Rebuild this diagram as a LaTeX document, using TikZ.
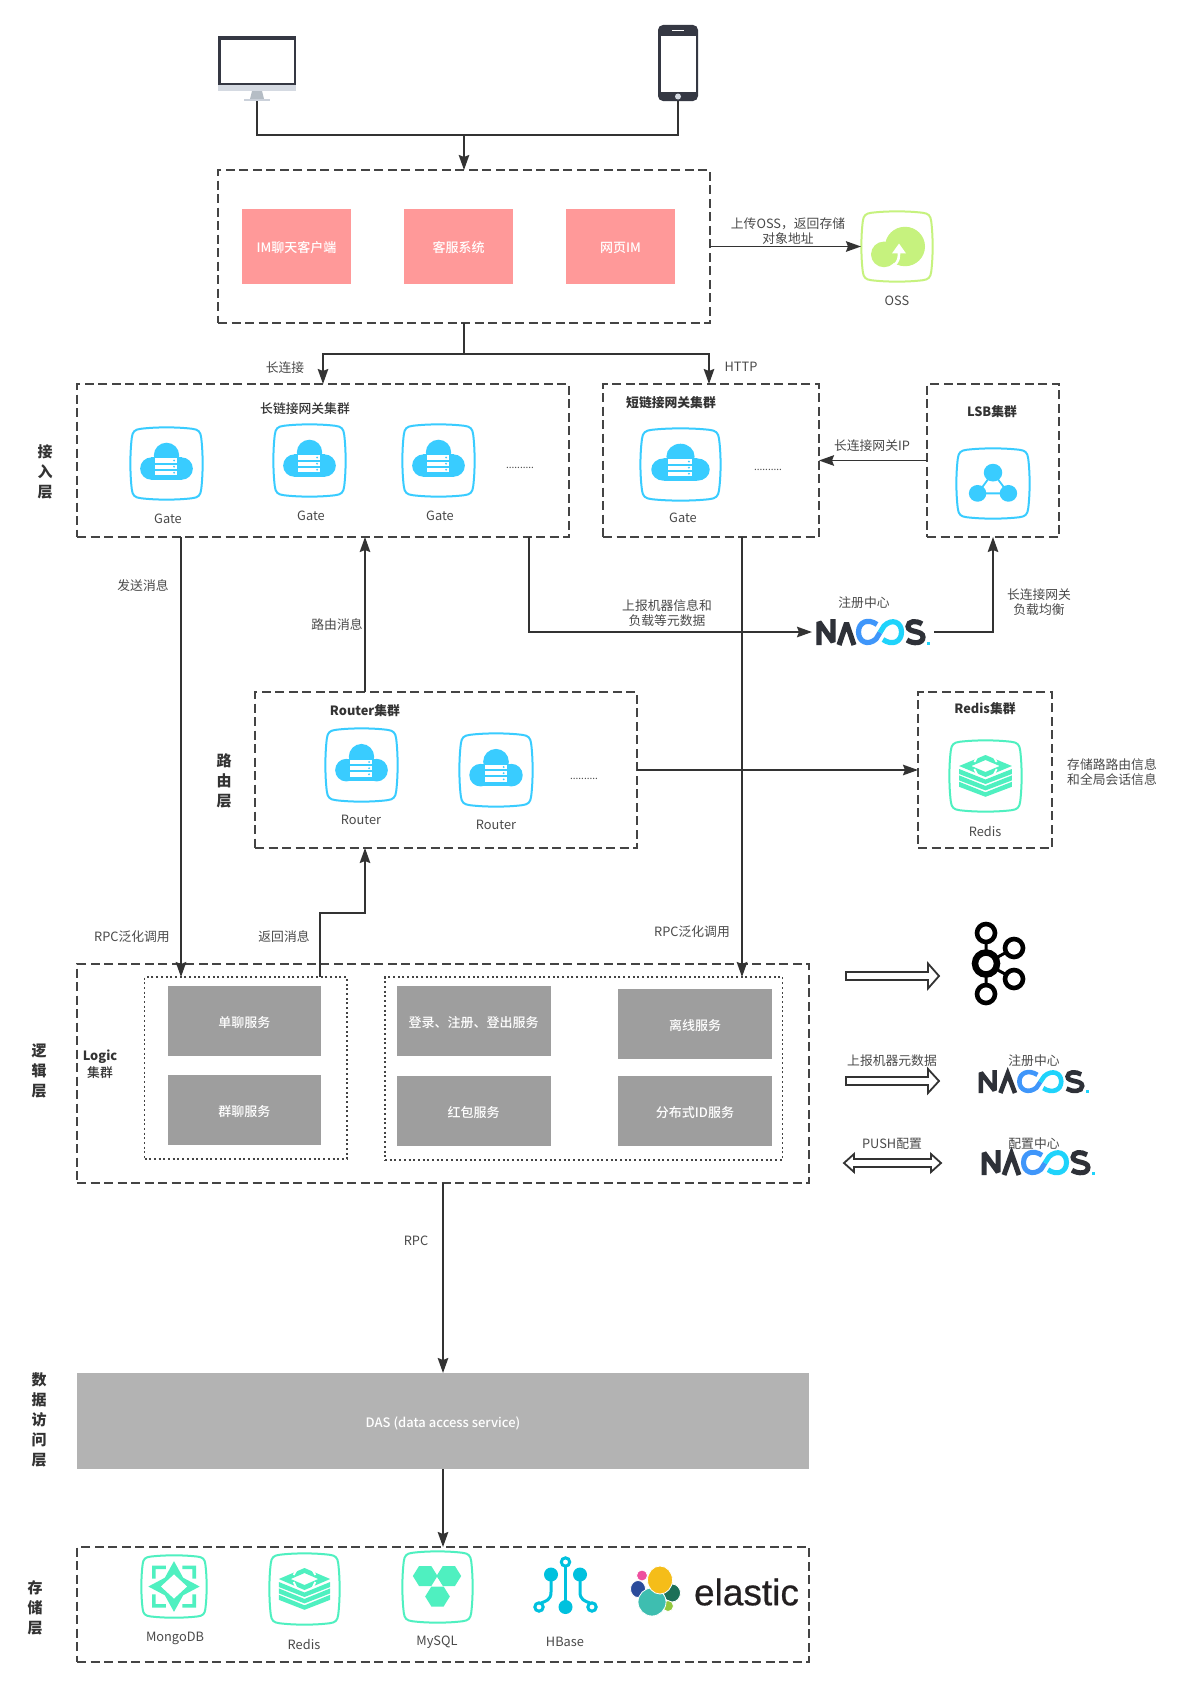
\documentclass[tikz,border=0pt]{standalone}
\usepackage{fontspec}
\setmainfont{Noto Sans CJK SC}
\newfontfamily\medfont{Noto Sans CJK SC Medium}
\newfontfamily\logofont[FakeBold=0.5]{Liberation Sans}
\usetikzlibrary{arrows.meta,calc}
\definecolor{ink}{HTML}{333333}
\definecolor{dashink}{HTML}{444444}
\definecolor{labink}{HTML}{4A4A4A}
\definecolor{pinkbox}{HTML}{FF9999}
\definecolor{greybox}{HTML}{9E9E9E}
\definecolor{dasbox}{HTML}{B3B3B3}
\definecolor{gatecol}{HTML}{39CCFF}
\definecolor{tealcol}{HTML}{4FF0C0}
\definecolor{limecol}{HTML}{C6F27E}
\definecolor{hbasecol}{HTML}{00C1DE}
\definecolor{devdark}{HTML}{353843}
\definecolor{devchin}{HTML}{D5DAE2}
\definecolor{devstand}{HTML}{B5BDC5}
\definecolor{devbase}{HTML}{CBD1DA}
\definecolor{nacdark}{HTML}{2E3138}
\definecolor{nacblue}{HTML}{3F96FA}
\definecolor{naccyan}{HTML}{1FD3FB}
\definecolor{elpink}{HTML}{EE4F9F}
\definecolor{elnavy}{HTML}{2A4B9B}
\definecolor{elgreen}{HTML}{1C7058}
\definecolor{ellime}{HTML}{93C83E}
\definecolor{elteal}{HTML}{3EBEB0}
\definecolor{elyellow}{HTML}{F5BD19}
\definecolor{elink}{HTML}{231F20}
\tikzset{
  every node/.style={inner sep=0pt,outer sep=0pt},
  dashbox/.style={draw=dashink,line width=1.8pt,dash pattern=on 9pt off 4.5pt},
  dotbox/.style={draw=dashink,line width=1.8pt,dash pattern=on 2pt off 2.7pt},
  fillfont/.style={text=white,font=\medfont\fontsize{13}{16}\selectfont,text height=12.5pt,text depth=0pt},
  pinkfill/.style={fill=pinkbox,fillfont},
  greyfill/.style={fill=greybox,fillfont},
  dasfill/.style={fill=dasbox,fillfont},
  placebox/.style={},
  lab/.style={yshift=-1pt,text=labink,font=\fontsize{12.8}{15.5}\selectfont,align=center},
  titlelab/.style={yshift=-1pt,text=ink,font=\medfont\fontsize{12.8}{15.5}\selectfont,align=center},
  boldlab/.style={yshift=-1pt,text=ink,font=\fontsize{12.8}{15.5}\selectfont\bfseries,align=center},
  sidelab/.style={text=ink,font=\fontsize{15}{20}\selectfont\bfseries,align=center},
  wire/.style={draw=ink,line width=1.8pt},
  arr/.style={draw=ink,line width=1.8pt,-{Stealth[length=15pt,width=10.5pt,inset=2pt]}},
  hollow/.style={draw=ink,line width=1.8pt,fill=white,line join=miter},
}
\newcommand{\mkbox}[7][]{\node[#1,minimum width={(#5-#3)*1pt},minimum height={(#6-#4)*1pt}] (#2) at ({(#3+#5)/2},{(#4+#6)/2}) {#7};}
\newcommand{\mklab}[5][lab]{\node[#1] (#2) at (#3,#4) {#5};}
\newcommand{\mkicon}[7]{%
  \node[minimum width={(#4-#2)*1pt},minimum height={(#5-#3)*1pt}] (#1) at ({(#2+#4)/2},{(#3+#5)/2}) {};
  \begin{scope}[shift={(#1.center)},xscale={(#4-#2)/72},yscale={(#5-#3)/72}]
    \begin{scope}[scale=0.95]
    \draw[color=#6,line width=2pt,line join=round]
      (-27,-36) .. controls (-11,-38) and (11,-38) .. (27,-36)
      .. controls (33,-35.3) and (35.3,-33) .. (36,-27)
      .. controls (38,-11) and (38,11) .. (36,27)
      .. controls (35.3,33) and (33,35.3) .. (27,36)
      .. controls (11,38) and (-11,38) .. (-27,36)
      .. controls (-33,35.3) and (-35.3,33) .. (-36,27)
      .. controls (-38,11) and (-38,-11) .. (-36,-27)
      .. controls (-35.3,-33) and (-33,-35.3) .. (-27,-36) -- cycle;
    \end{scope}
    #7
  \end{scope}}
\newcommand{\cloudglyph}{%
  \fill[gatecol] (0,-8) circle (12.5);
  \fill[gatecol] (-15,5) circle (11);
  \fill[gatecol] (15,5) circle (11);
  \fill[gatecol] (-15,-6) rectangle (15,16);
  \foreach \yy in {-5,1,7}{
    \fill[white] (-11,\yy) rectangle (10.5,\yy+4.3);
    \fill[gatecol] (7.5,\yy+2.1) circle (1);
  }}
\newcommand{\stackglyph}{%
  \fill[tealcol,even odd rule] (-26,-10) -- (0,-21) -- (26,-10) -- (0,1) -- cycle
     (-14,-10) -- (0,-16) -- (14,-10) -- (0,-4) -- cycle;
  \draw[white,line width=1.8pt] (-7,-21) -- (-11,-14) (7,-21) -- (11,-14) (-11,-7) -- (-7,1) (11,-7) -- (7,1);
  \foreach \dy in {-2,4.4,10.8}{
    \fill[tealcol] (-26,{-5+\dy}) -- (0,{5.5+\dy}) -- (26,{-5+\dy}) -- (26,{\dy}) -- (0,{10+\dy}) -- (-26,{\dy}) -- cycle;
  }}
\newcommand{\nacoslogo}[5]{%
  \node[minimum width={(#4-#2)*1pt},minimum height={(#5-#3)*1pt}] (#1) at ({(#2+#4)/2},{(#3+#5)/2}) {};
  \begin{scope}[shift={(#2,#3)},xscale={(#4-#2)/114},yscale={(#5-#3)/26}]
    \pgfmathsetmacro{\nlw}{5.2*(#5-#3)/26}
    \draw[nacdark,line width=\nlw pt,line join=miter,miter limit=3] (3,26) -- (3,3) -- (17,23) -- (17,0);
    \draw[nacdark,line width=\nlw pt,line join=miter,miter limit=3] (23,26) -- (30.5,4) -- (38,26);
    \draw[nacblue,line width=\nlw pt] (61,5.5) .. controls (52,-1) and (42.5,3) .. (42.5,13) .. controls (42.5,23) and (52,27) .. (60,20) -- (64,13.5);
    \draw[naccyan,line width=\nlw pt] (64,13.5) -- (68,7) .. controls (76,-1) and (85.5,3) .. (85.5,13) .. controls (85.5,23) and (76,27) .. (67,20.5);
    \draw[nacdark,line width=\nlw pt] (106,5) .. controls (100,1) and (92,2) .. (92,7.5) .. controls (92,14) and (107,11) .. (107,18) .. controls (107,25) and (97,25) .. (91,21);
    \fill[naccyan] (110.5,22.5) rectangle (114,26);
  \end{scope}}
\begin{document}
\begin{tikzpicture}[x=1pt,y=-1pt]
\useasboundingbox (0,0) rectangle (1185,1686);
\fill[white] (0,0) rectangle (1185,1686);

% devices
\mkbox[placebox]{monitor}{218}{36}{296}{101}{}
\fill[devdark] (218,36) rectangle (296,85);
\fill[white] (220.5,40.5) rectangle (293.5,83);
\fill[devchin] (218,85) rectangle (296,91);
\fill[devstand] (252,91) -- (262,91) -- (264,99) -- (250,99) -- cycle;
\fill[devbase] (244,99) rectangle (270,101);

\mkbox[placebox]{phone}{658}{25}{698}{101}{}
\fill[devdark,rounded corners=5pt] (658,25) rectangle (698,101);
\fill[white] (660.5,36) rectangle (695.5,92);
\fill[white] (672,30.2) rectangle (684,31.4);
\fill[devchin] (678,96.5) circle (3);

% client box
\mkbox[dashbox]{client}{218}{170}{710}{323}{}
\mkbox[pinkfill]{imapp}{242}{209}{351}{284}{IM聊天客户端}
\mkbox[pinkfill]{kefu}{404}{209}{513}{284}{客服系统}
\mkbox[pinkfill]{webim}{566}{209}{675}{284}{网页IM}

\coordinate (jt) at (464,135);
\draw[wire] (monitor.south) |- (jt);
\draw[wire] (phone.south) |- (jt);
\draw[arr] (jt) -- (client.north);

% OSS
\mkicon{oss}{861}{211}{933}{282}{limecol}{%
  \fill[limecol] (8,0) circle (20);
  \fill[limecol] (-13,8) circle (13);
  \draw[white,line width=2.6pt] (-3,19) .. controls (2,15) and (2,11) .. (2,5);
  \fill[white] (2,-3) -- (9,7) -- (-5,7) -- cycle;
}
\mklab{osslab}{897}{300}{OSS}
\draw[arr] (client.east) -- (oss.west);
\mklab{uploadlab}{788}{230}{上传OSS，返回存储\\对象地址}

% access layer
\mkbox[dashbox]{long}{77}{384}{569}{537}{}
\mkbox[dashbox]{short}{603}{384}{819}{537}{}
\mkbox[dashbox]{lsb}{927}{384}{1059}{537}{}
\coordinate (js) at (464,354);
\draw[wire] (client.south) -- (js);
\draw[arr] (js) -| (long.north);
\draw[arr] (js) -| ([xshift=-2pt]short.north);
\mklab{longconn}{285}{367}{长连接}
\mklab{httplab}{741}{366}{HTTP}
\mklab[titlelab]{longtitle}{305}{408}{长链接网关集群}
\mkicon{gate1}{130}{427}{203}{500}{gatecol}{\cloudglyph}
\mkicon{gate2}{273}{424}{346}{497}{gatecol}{\cloudglyph}
\mkicon{gate3}{402}{424}{475}{497}{gatecol}{\cloudglyph}
\mklab{gatelab1}{168}{518}{Gate}
\mklab{gatelab2}{311}{515}{Gate}
\mklab{gatelab3}{440}{515}{Gate}
\node[lab,font=\fontsize{10}{12}\selectfont] (dots1) at (520,467) {..........};
\mklab[boldlab]{shorttitle}{671}{402}{短链接网关集群}
\mkicon{gate4}{640}{428}{721}{501}{gatecol}{\cloudglyph}
\mklab{gatelab4}{683}{517}{Gate}
\node[lab,font=\fontsize{10}{12}\selectfont] (dots2) at (768,469) {..........};
\mklab[boldlab]{lsbtitle}{992}{411}{LSB集群}
\mkicon{lsbicon}{956}{448}{1030}{519}{gatecol}{%
  \draw[gatecol,line width=1.8pt] (0,-11) -- (-15,10) -- (15,10) -- cycle;
  \fill[gatecol] (0,-11) circle (9);
  \fill[gatecol] (-15,10) circle (8.5);
  \fill[gatecol] (15,10) circle (8.5);
}
\draw[arr] (lsb.west) -- (short.east);
\mklab{lsbip}{872}{445}{长连接网关IP}
\mklab[sidelab]{siderow1}{45}{472}{接\\入\\层}

% nacos middle
\nacoslogo{nacos1}{816}{619}{930}{645}
\mklab{regcenter1}{864}{602}{注册中心}
\draw[arr] ([xshift=206pt]long.south) |- ([xshift=-4pt]nacos1.west);
\draw[arr] ([xshift=4pt]nacos1.east) -| (lsb.south);
\mklab{reportlab}{667}{612}{上报机器信息和\\负载等元数据}
\mklab{balance}{1039}{601}{长连接网关\\负载均衡}
\mklab{sendlab}{143}{585}{发送消息}
\mklab{routelab}{337}{624}{路由消息}

% router layer
\mkbox[dashbox]{router}{255}{692}{637}{848}{}
\mklab[boldlab]{routertitle}{365}{710}{Router集群}
\mkicon{router1}{325}{728}{398}{802}{gatecol}{\cloudglyph}
\mkicon{router2}{459}{733}{533}{807}{gatecol}{\cloudglyph}
\mklab{routerlab1}{361}{819}{Router}
\mklab{routerlab2}{496}{824}{Router}
\node[lab,font=\fontsize{10}{12}\selectfont] (dots3) at (584,778) {..........};
\mklab[sidelab]{siderow2}{224}{781}{路\\由\\层}
\mkbox[dashbox]{redisbox}{918}{692}{1052}{848}{}
\mklab[boldlab]{redistitle}{985}{708}{Redis集群}
\mkicon{redisicon}{949}{740}{1022}{812}{tealcol}{\stackglyph}
\mklab{redislab}{985}{830}{Redis}
\draw[arr] (router.east) -- (redisbox.west);
\node[lab,align=left] (redisnote) at (1112,771) {存储路路由信息\\和全局会话信息};
\draw[arr] ([xshift=-81pt]router.north) -- ([xshift=42pt]long.south);

% logic layer
\mkbox[dashbox]{logic}{77}{964}{809}{1183}{}
\mkbox[dotbox]{dot1}{144.5}{977}{347}{1159}{}
\mkbox[dotbox]{dot2}{385}{977}{782.5}{1160}{}
\mkbox[greyfill]{single}{167.6}{986}{321}{1056}{单聊服务}
\mkbox[greyfill]{group}{167.6}{1075}{321}{1145}{群聊服务}
\mkbox[greyfill]{login}{396.5}{986}{550.7}{1056}{登录、注册、登出服务}
\mkbox[greyfill]{redpack}{396.5}{1076}{550.7}{1146}{红包服务}
\mkbox[greyfill]{offline}{618}{989}{772}{1059}{离线服务}
\mkbox[greyfill]{idgen}{618}{1076}{772}{1146}{分布式ID服务}
\node[boldlab] (logictitle) at (100,1056) {Logic};
\mklab[titlelab]{logicsub}{100}{1072}{集群}
\mklab[sidelab]{siderow3}{39}{1071}{逻\\辑\\层}

\draw[arr] ([xshift=-142pt]long.south) coordinate (a1) -- (a1 |- dot1.north);
\draw[arr] ([xshift=31pt]short.south) coordinate (a2) -- (a2 |- dot2.north);
\draw[arr] ([xshift=74.25pt]dot1.north) -- ++(0,-64) -| ([xshift=-81pt]router.south);
\mklab{rpc1}{132}{936}{RPC泛化调用}
\mklab{rpc2}{692}{931}{RPC泛化调用}
\mklab{backlab}{284}{936}{返回消息}

% right column
\draw[hollow] (846,972) -- (928,972) -- (928,963.5) -- (939,976) -- (928,988.5) -- (928,980) -- (846,980) -- cycle;
\coordinate (kc) at (986,963.5);
\coordinate (kt) at (986,933);
\coordinate (kb) at (986,994);
\coordinate (kr) at (1014,948);
\coordinate (ks) at (1014,979);
\draw[black,line width=3pt] (kt) -- (kb) (kc) -- (kr) (kc) -- (ks);
\draw[black,line width=6.5pt,fill=white] (kc) circle (11);
\draw[black,line width=4.6pt,fill=white] (kt) circle (9);
\draw[black,line width=4.6pt,fill=white] (kb) circle (9);
\draw[black,line width=4.6pt,fill=white] (kr) circle (9);
\draw[black,line width=4.6pt,fill=white] (ks) circle (9);

\draw[hollow] (846,1077) -- (928,1077) -- (928,1069) -- (939,1081) -- (928,1093) -- (928,1085) -- (846,1085) -- cycle;
\mklab{reportmeta}{892}{1060}{上报机器元数据}
\nacoslogo{nacos2}{978}{1070}{1089}{1093}
\mklab{regcenter2}{1034}{1060}{注册中心}
\draw[hollow] (844,1163) -- (854,1154) -- (854,1159) -- (931,1159) -- (931,1154) -- (941,1163) -- (931,1172) -- (931,1167) -- (854,1167) -- (854,1172) -- cycle;
\mklab{pushlab}{892}{1143}{PUSH配置}
\nacoslogo{nacos3}{981}{1150}{1095}{1175}
\mklab{cfgcenter}{1034}{1143}{配置中心}

% data access
\mkbox[dasfill]{das}{77}{1373}{809}{1469}{DAS (data access service)}
\draw[arr] (logic.south) coordinate (a3) -- (a3 |- das.north);
\mklab{rpc3}{416}{1240}{RPC}
\mklab[sidelab]{siderow4}{39}{1420}{数\\据\\访\\问\\层}

% storage
\mkbox[dashbox]{store}{77}{1547}{809}{1662}{}
\draw[arr] (das.south) coordinate (a4) -- (a4 |- store.north);
\mklab[sidelab]{siderow5}{35}{1608}{存\\储\\层}
\mkicon{mongoicon}{141}{1555}{207}{1618}{tealcol}{%
  \fill[tealcol,even odd rule] (0,-29) -- (10,-10) -- (28,0) -- (10,10) -- (0,29) -- (-10,10) -- (-28,0) -- (-10,-10) -- cycle
    (0,-14) -- (14.5,0) -- (0,14) -- (-14.5,0) -- cycle;
  \fill[tealcol] (-24,-24) -- (-9,-24) -- (-9,-20) -- (-20,-20) -- (-20,-9) -- (-24,-9) -- cycle;
  \fill[tealcol] (24,-24) -- (9,-24) -- (9,-20) -- (20,-20) -- (20,-9) -- (24,-9) -- cycle;
  \fill[tealcol] (-24,24) -- (-9,24) -- (-9,20) -- (-20,20) -- (-20,9) -- (-24,9) -- cycle;
  \fill[tealcol] (24,24) -- (9,24) -- (9,20) -- (20,20) -- (20,9) -- (24,9) -- cycle;
}
\mklab{mongolab}{175}{1637}{MongoDB}
\mkicon{storeredis}{269}{1553}{340}{1625}{tealcol}{\stackglyph}
\mklab{storeredislab}{304}{1643}{Redis}
\mkicon{mysqlicon}{402}{1551}{473}{1623}{tealcol}{%
  \foreach \hx/\hy in {-12.5/-11,11.5/-11,0/9.5}{
    \fill[tealcol,shift={(\hx,\hy)}] (-12.5,0) -- (-6.2,-10) -- (6.2,-10) -- (12.5,0) -- (6.2,10) -- (-6.2,10) -- cycle;
  }
  \fill[white] (0,-9) -- (5,-1) -- (-5,-1) -- cycle;
}
\mklab{mysqllab}{437}{1641}{MySQL}
\node[minimum width=66pt,minimum height=56pt] (hbaseicon) at (566,1585) {};
\draw[hbasecol,line width=3pt] (565.5,1566) -- (565.5,1604);
\draw[hbasecol,line width=3pt] (551,1577) -- (551,1592) .. controls (551,1600) and (546,1601) .. (541,1603);
\draw[hbasecol,line width=3pt] (580,1577) -- (580,1592) .. controls (580,1600) and (585,1601) .. (590,1603);
\fill[hbasecol] (565.5,1607) circle (7);
\fill[hbasecol] (551,1574.5) circle (7);
\fill[hbasecol] (580,1574.5) circle (7);
\draw[hbasecol,line width=3pt,fill=white] (565.5,1562) circle (4.2);
\draw[hbasecol,line width=3pt,fill=white] (539,1607) circle (4.2);
\draw[hbasecol,line width=3pt,fill=white] (592,1607) circle (4.2);
\mklab{hbaselab}{565}{1641}{HBase}
\node[minimum width=49pt,minimum height=50pt] (elasticicon) at (655.5,1591) {};
\begin{scope}[draw=white,line width=0.8pt]
  \filldraw[fill=elpink] (642,1575.5) ellipse (5.5 and 5.5);
  \filldraw[fill=elnavy] (638,1589) ellipse (7.5 and 8.5);
  \filldraw[fill=elgreen] (672,1593) ellipse (8.5 and 9);
  \filldraw[fill=ellime] (668,1606) ellipse (5.5 and 5.5);
  \filldraw[fill=elteal] (652,1602) ellipse (14 and 14);
  \filldraw[fill=elyellow] (660,1580) ellipse (12.5 and 14);
\end{scope}
\node[text=elink,font=\logofont\fontsize{37}{37}\selectfont] (elastictext) at (746.5,1592) {elastic};
\end{tikzpicture}
\end{document}
